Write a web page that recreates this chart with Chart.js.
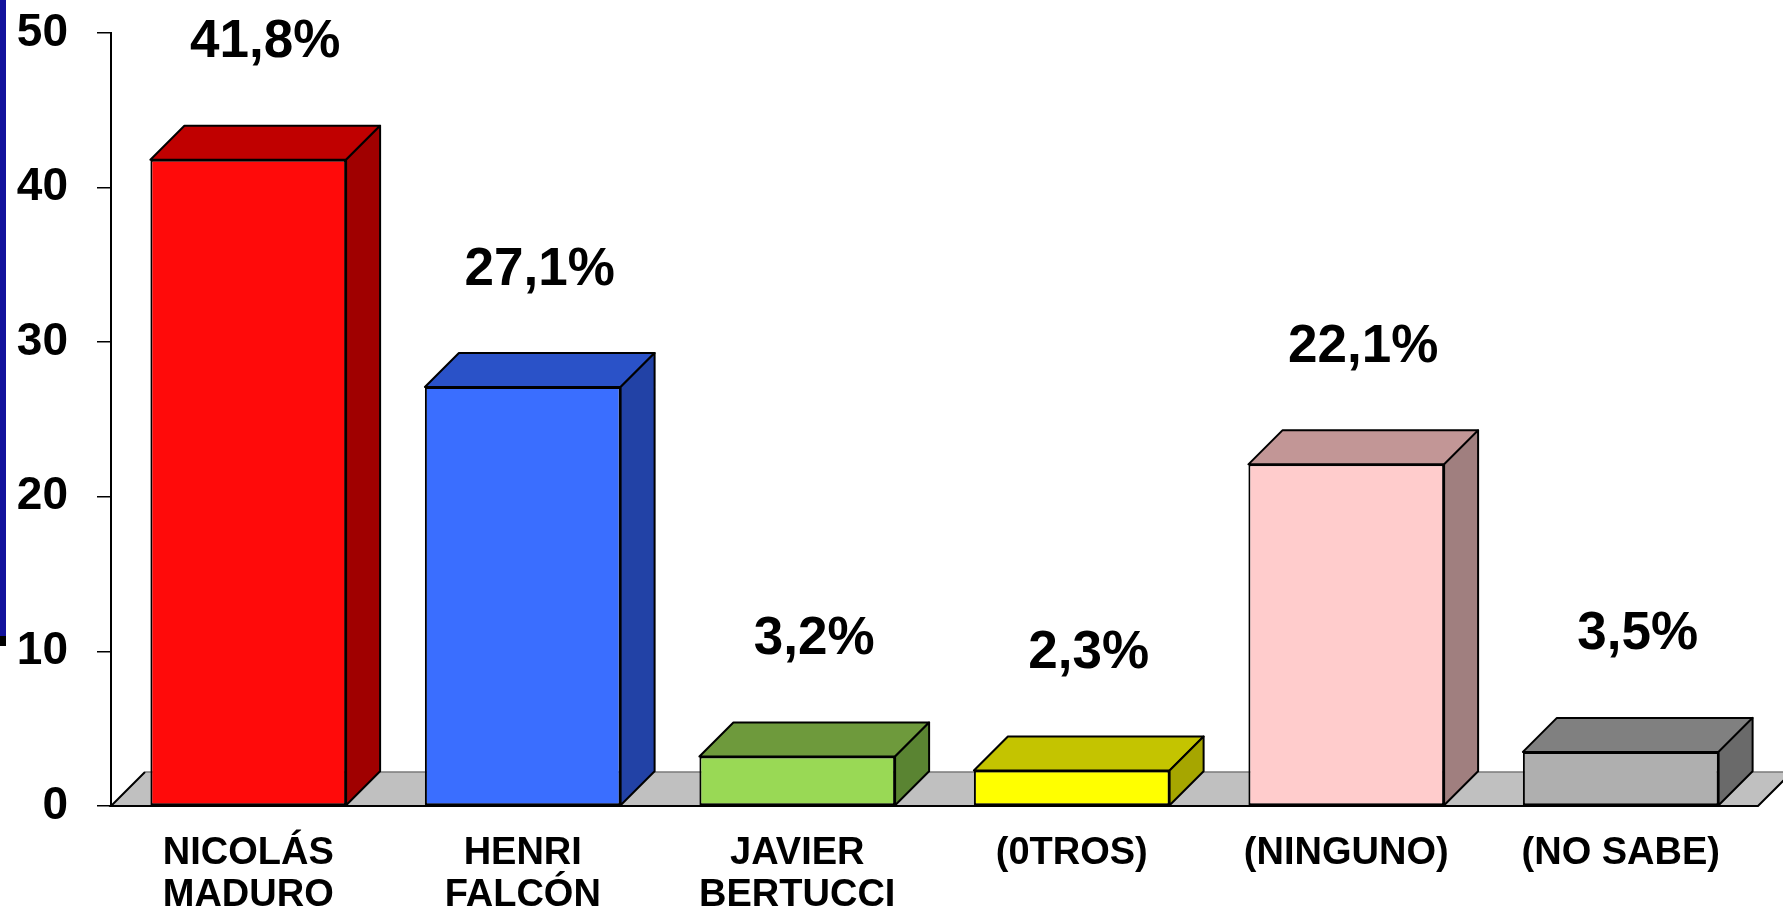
<!DOCTYPE html>
<html>
<head>
<meta charset="utf-8">
<script src="https://cdn.jsdelivr.net/npm/chart.js@4"></script>
<style>
  html, body { margin: 0; padding: 0; background: #ffffff; overflow: hidden; }
  #wrap { position: relative; width: 1783px; height: 907px; }
  #c { position: absolute; left: 0; top: 0; }
  .strip { position: absolute; left: 0; width: 6px; }
</style>
</head>
<body>
<div id="wrap">
  <canvas id="c" width="1783" height="907"></canvas>
  <div class="strip" style="top:0;height:636px;background:#12129c;"></div>
  <div class="strip" style="top:636px;height:10px;background:#000;"></div>
</div>
<script>
// ---- data ----
const categories = [["NICOLÁS", "MADURO"], ["HENRI", "FALCÓN"], ["JAVIER", "BERTUCCI"], "(0TROS)", "(NINGUNO)", "(NO SABE)"];
const values = [41.8, 27.1, 3.2, 2.3, 22.1, 3.5];
const yTicks = [0, 10, 20, 30, 40, 50];

// ---- styles ----
const frontColors = ["#ff0a0a", "#3a6eff", "#99d955", "#ffff00", "#ffcccc", "#afafaf"];
const topColors   = ["#c00000", "#2a52c8", "#6e9a3c", "#c4c400", "#c29696", "#808080"];
const sideColors  = ["#a00000", "#2242a6", "#5a8432", "#a6a600", "#a07f7f", "#6a6a6a"];
const DEPTH = 34;
const FONT = "'Liberation Sans', Arial, sans-serif";

const cube3d = {
  id: 'cube3d',
  beforeDatasetsDraw(chart) {
    const { ctx, chartArea: a } = chart;
    const yb = chart.scales.y.getPixelForValue(0);
    ctx.save();
    ctx.beginPath();
    ctx.moveTo(a.left, yb);
    ctx.lineTo(a.right, yb);
    ctx.lineTo(a.right + DEPTH, yb - DEPTH);
    ctx.lineTo(a.left + DEPTH, yb - DEPTH);
    ctx.closePath();
    ctx.fillStyle = '#c0c0c0';
    ctx.fill();
    ctx.lineWidth = 1.5;
    ctx.strokeStyle = '#7a7a7a';
    ctx.beginPath();
    ctx.moveTo(a.left + DEPTH, yb - DEPTH);
    ctx.lineTo(a.right + DEPTH, yb - DEPTH);
    ctx.stroke();
    ctx.strokeStyle = '#000';
    ctx.lineWidth = 2;
    ctx.beginPath();
    ctx.moveTo(a.left + DEPTH, yb - DEPTH);
    ctx.lineTo(a.left, yb);
    ctx.lineTo(a.right, yb);
    ctx.lineTo(a.right + DEPTH, yb - DEPTH);
    ctx.stroke();
    ctx.restore();
  },
  afterDatasetsDraw(chart) {
    const { ctx } = chart;
    const meta = chart.getDatasetMeta(0);
    ctx.save();
    ctx.lineWidth = 2;
    ctx.strokeStyle = '#000';
    ctx.lineJoin = 'round';
    meta.data.forEach((bar, i) => {
      const p = bar.getProps(['x', 'y', 'base', 'width'], true);
      const l = p.x - p.width / 2, r = p.x + p.width / 2;
      const t = p.y, b = p.base;
      // top face
      ctx.beginPath();
      ctx.moveTo(l, t);
      ctx.lineTo(l + DEPTH, t - DEPTH);
      ctx.lineTo(r + DEPTH, t - DEPTH);
      ctx.lineTo(r, t);
      ctx.closePath();
      ctx.fillStyle = topColors[i];
      ctx.fill();
      ctx.stroke();
      // side face
      ctx.beginPath();
      ctx.moveTo(r, t);
      ctx.lineTo(r + DEPTH, t - DEPTH);
      ctx.lineTo(r + DEPTH, b - DEPTH);
      ctx.lineTo(r, b);
      ctx.closePath();
      ctx.fillStyle = sideColors[i];
      ctx.fill();
      ctx.stroke();
      // value label
      ctx.fillStyle = '#000';
      ctx.font = 'bold 53px ' + FONT;
      ctx.textAlign = 'center';
      ctx.textBaseline = 'middle';
      const txt = values[i].toFixed(1).replace('.', ',') + '%';
      ctx.fillText(txt, p.x + DEPTH / 2, t - 117);
    });
    ctx.restore();
  }
};

new Chart(document.getElementById('c'), {
  type: 'bar',
  data: {
    labels: categories,
    datasets: [{
      data: values,
      backgroundColor: frontColors,
      borderColor: '#000',
      borderWidth: 2,
      borderSkipped: false,
      categoryPercentage: 1.0,
      barPercentage: 0.713
    }]
  },
  options: {
    responsive: false,
    animation: false,
    devicePixelRatio: 1,
    layout: { padding: { top: 33, right: 25, left: 0, bottom: 0 } },
    plugins: { legend: { display: false }, tooltip: { enabled: false }, title: { display: false } },
    scales: {
      x: {
        grid: { display: false, drawTicks: false },
        border: { display: false },
        ticks: {
          color: '#000',
          padding: 26,
          maxRotation: 0,
          autoSkip: false,
          font: { family: FONT, size: 38, weight: 'bold', lineHeight: 1.12 }
        },
        afterFit(s) { s.height = 101; s.paddingLeft = 0; s.paddingRight = 0; }
      },
      y: {
        min: 0,
        max: 50,
        afterBuildTicks(s) { s.ticks = yTicks.map(v => ({ value: v })); },
        grid: { drawOnChartArea: false, drawTicks: true, tickLength: 14, color: '#000', lineWidth: 1.5 },
        border: { display: true, color: '#000', width: 2 },
        ticks: {
          color: '#000',
          padding: 29,
          font: { family: FONT, size: 46, weight: 'bold' }
        },
        afterFit(s) { s.width = 111; s.paddingTop = 0; s.paddingBottom = 0; }
      }
    }
  },
  plugins: [cube3d]
});
</script>
</body>
</html>
